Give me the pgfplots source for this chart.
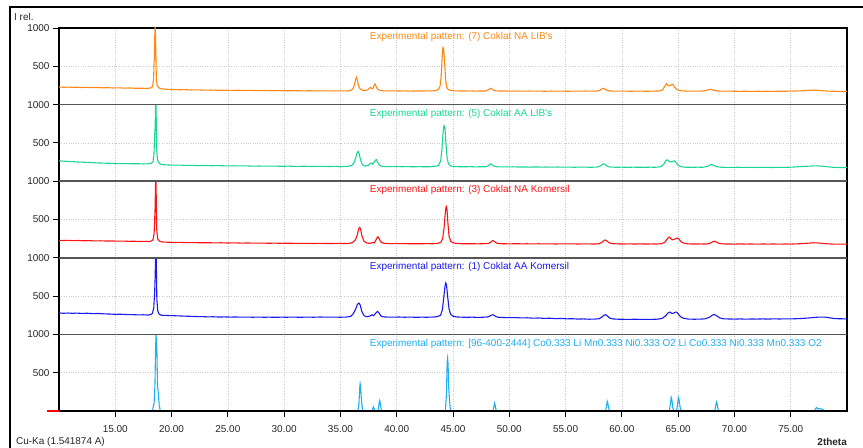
\documentclass[border=0pt]{standalone}
\usepackage{fontspec}
\setmainfont{Liberation Sans}
\usepackage{pgfplots}
\pgfplotsset{compat=1.18}
\usepackage{pgfplotstable}
\definecolor{corange}{RGB}{255,136,20}
\definecolor{cgreen}{RGB}{25,215,145}
\definecolor{cred}{RGB}{250,20,20}
\definecolor{cblue}{RGB}{25,25,240}
\definecolor{clblue}{RGB}{30,175,240}
\definecolor{sepgray}{RGB}{85,85,85}

\pgfplotstableread{
x y
10.0 230
10.4 226
10.8 229
11.2 225
11.6 227
12.0 223
12.5 225
13.0 221
13.4 224
13.8 219
14.3 221
14.8 217
15.3 219
15.8 215
16.3 217
16.8 213
17.3 214
17.7 211
18.0 214
18.2 220
18.32 240
18.40 330
18.45 560
18.48 620
18.52 1000
18.56 1000
18.60 700
18.65 330
18.72 250
18.85 222
19.0 210
19.3 202
19.7 199
20.2 196
20.7 194
21.2 195
21.7 191
22.3 192
22.9 189
23.5 190
24.1 187
24.7 188
25.3 185
25.9 187
26.5 184
27.1 185
27.7 182
28.3 184
28.9 181
29.5 183
30.2 180
30.9 182
31.6 179
32.3 181
33.0 178
33.7 180
34.4 178
35.0 179
35.6 178
35.9 185
36.1 205
36.25 260
36.35 330
36.42 357
36.5 320
36.6 250
36.75 205
36.95 188
37.2 184
37.45 195
37.6 218
37.7 222
37.8 205
37.9 215
38.0 255
38.07 270
38.15 245
38.3 200
38.5 185
38.8 180
39.2 178
39.7 180
40.2 177
40.7 179
41.2 176
41.7 178
42.2 177
42.7 179
43.1 178
43.5 184
43.7 198
43.85 240
43.95 380
44.03 600
44.09 722
44.13 700
44.17 722
44.25 560
44.35 320
44.45 220
44.6 195
44.8 185
45.1 180
45.5 178
46.0 177
46.5 179
47.0 176
47.5 178
47.9 177
48.1 190
48.25 205
48.34 213
48.45 204
48.6 188
48.8 179
49.2 177
49.7 178
50.2 175
50.7 177
51.2 176
51.7 177
52.2 175
52.7 176
53.2 174
53.7 177
54.2 175
54.7 176
55.2 174
55.7 176
56.2 175
56.7 177
57.2 175
57.7 176
58.0 183
58.2 200
58.3 213
58.45 205
58.65 188
58.9 178
59.3 176
59.8 175
60.3 176
60.8 174
61.3 176
61.8 175
62.3 174
62.8 176
63.3 178
63.6 190
63.8 235
63.97 274
64.1 250
64.25 245
64.38 260
64.52 265
64.65 238
64.8 205
65.0 188
65.3 180
65.7 177
66.2 175
66.7 176
67.2 177
67.5 185
67.7 196
67.84 200
68.0 195
68.2 184
68.5 178
69.0 175
69.5 176
70.0 174
70.5 173
71.0 175
71.5 172
72.0 174
72.5 173
73.0 174
73.5 172
74.0 175
74.5 174
75.0 176
75.5 178
76.0 180
76.5 185
77.0 188
77.3 187
77.7 183
78.2 177
78.7 174
79.2 173
79.7 172
80.0 173
}\orangedata

\pgfplotstableread{
x y
10.0 266
10.4 262
10.8 258
11.2 255
11.6 251
12.0 249
12.5 245
13.0 242
13.5 238
14.0 236
14.5 233
15.0 231
15.5 229
16.0 230
16.5 227
17.0 228
17.5 225
17.9 227
18.2 234
18.35 255
18.43 340
18.5 600
18.54 700
18.58 1000
18.62 1000
18.67 420
18.75 280
18.9 232
19.1 218
19.4 214
19.8 211
20.3 209
20.8 210
21.3 206
21.8 207
22.4 204
23.0 205
23.6 202
24.2 203
24.8 200
25.4 201
26.0 199
26.6 200
27.2 197
27.8 198
28.4 196
29.0 197
29.7 195
30.4 196
31.1 193
31.8 195
32.5 192
33.2 194
33.9 192
34.6 193
35.2 191
35.7 194
36.0 205
36.2 240
36.35 300
36.48 370
36.57 389
36.66 360
36.8 270
36.95 215
37.2 197
37.45 205
37.65 232
37.75 236
37.85 222
38.0 248
38.12 276
38.2 280
38.3 250
38.45 210
38.7 194
39.0 191
39.5 190
40.0 192
40.5 189
41.0 190
41.5 188
42.0 190
42.5 188
43.0 189
43.4 193
43.7 205
43.9 260
44.02 420
44.12 640
44.2 725
44.28 710
44.36 520
44.48 300
44.6 225
44.8 200
45.1 192
45.5 189
46.0 188
46.5 190
47.0 187
47.5 189
47.9 188
48.1 200
48.25 220
48.34 227
48.45 215
48.65 196
48.9 188
49.3 187
49.8 186
50.3 188
50.8 185
51.3 186
51.8 184
52.3 186
52.8 184
53.3 185
53.8 183
54.3 185
54.8 183
55.3 184
55.8 182
56.3 184
56.8 183
57.3 182
57.8 184
58.1 200
58.28 222
58.4 227
58.52 215
58.75 192
59.0 184
59.5 182
60.0 183
60.5 181
61.0 183
61.5 182
62.0 181
62.5 183
63.0 182
63.4 188
63.7 215
63.9 265
64.02 280
64.15 265
64.3 250
64.5 258
64.67 266
64.82 240
65.0 205
65.3 188
65.7 182
66.2 181
66.7 183
67.2 182
67.6 192
67.85 212
67.98 218
68.15 208
68.4 190
68.8 182
69.3 181
69.8 180
70.3 182
70.8 180
71.3 181
71.8 179
72.3 181
72.8 180
73.3 179
73.8 181
74.3 180
74.8 182
75.3 185
75.8 190
76.3 194
76.8 198
77.3 201
77.8 196
78.3 188
78.8 181
79.3 179
80.0 178
}\greendata

\pgfplotstableread{
x y
10.0 228
10.4 226
10.8 227
11.2 224
11.7 226
12.2 222
12.7 224
13.2 220
13.7 222
14.2 219
14.7 220
15.2 217
15.7 218
16.2 215
16.7 216
17.2 213
17.7 214
18.0 213
18.2 218
18.35 235
18.45 320
18.51 540
18.54 670
18.58 1000
18.62 1000
18.67 380
18.76 250
18.9 220
19.1 208
19.4 204
19.8 203
20.3 200
20.8 201
21.4 198
22.0 199
22.6 196
23.2 197
23.8 195
24.4 196
25.0 193
25.6 195
26.2 192
26.8 193
27.4 191
28.0 192
28.6 190
29.2 191
29.8 189
30.5 190
31.2 188
31.9 189
32.6 187
33.3 188
34.0 186
34.7 188
35.3 186
35.8 188
36.1 200
36.35 240
36.5 300
36.63 380
36.72 396
36.8 370
36.92 280
37.1 215
37.35 192
37.6 188
37.8 196
37.9 200
38.0 194
38.15 230
38.28 270
38.34 274
38.42 255
38.6 205
38.85 190
39.2 186
39.7 185
40.2 184
40.7 185
41.2 183
41.7 184
42.2 183
42.7 185
43.2 183
43.6 188
43.9 200
44.08 250
44.2 380
44.3 560
44.37 660
44.41 670
44.46 640
44.55 450
44.65 280
44.8 215
45.0 195
45.3 188
45.7 184
46.2 183
46.7 184
47.2 182
47.7 184
48.1 185
48.3 198
48.45 218
48.55 226
48.65 215
48.85 193
49.1 185
49.6 183
50.1 182
50.6 184
51.1 182
51.6 183
52.1 181
52.6 183
53.1 181
53.6 182
54.1 180
54.6 182
55.1 181
55.6 182
56.1 180
56.6 182
57.1 181
57.6 180
58.0 184
58.25 205
58.42 228
58.53 232
58.65 222
58.85 197
59.1 185
59.6 181
60.1 180
60.6 182
61.1 180
61.6 181
62.1 180
62.6 181
63.1 180
63.5 184
63.8 200
64.0 240
64.15 265
64.23 270
64.35 250
64.5 235
64.7 245
64.85 255
64.97 257
65.1 240
65.3 205
65.6 187
66.0 181
66.5 180
67.0 181
67.5 180
67.8 188
68.05 208
68.22 217
68.38 207
68.65 188
69.0 181
69.5 180
70.0 179
70.5 181
71.0 179
71.5 180
72.0 178
72.5 180
73.0 179
73.5 180
74.0 178
74.5 180
75.0 179
75.5 182
76.0 185
76.5 190
77.0 196
77.4 194
77.8 188
78.3 182
78.8 179
79.3 178
80.0 178
}\reddata

\pgfplotstableread{
x y
10.0 280
10.4 276
10.8 279
11.2 275
11.6 278
12.0 274
12.5 276
13.0 271
13.5 273
14.0 268
14.5 266
15.0 262
15.5 263
16.0 259
16.5 258
17.0 255
17.5 256
17.9 252
18.15 258
18.3 275
18.42 350
18.5 560
18.54 750
18.58 1000
18.64 1000
18.69 460
18.78 300
18.92 262
19.1 250
19.4 248
19.8 246
20.2 244
20.7 241
21.2 238
21.7 236
22.2 233
22.7 232
23.2 229
23.7 230
24.2 227
24.7 228
25.2 226
25.7 227
26.2 225
26.7 226
27.2 224
27.7 226
28.2 224
28.7 225
29.2 223
29.7 225
30.2 224
30.8 226
31.4 223
32.0 226
32.6 224
33.2 227
33.8 225
34.4 226
35.0 224
35.5 226
35.9 235
36.15 270
36.35 330
36.52 395
36.65 409
36.75 385
36.9 300
37.1 245
37.35 230
37.6 238
37.8 256
37.95 245
38.15 280
38.3 300
38.4 285
38.6 240
38.85 228
39.2 226
39.7 225
40.2 227
40.7 224
41.2 226
41.7 223
42.2 225
42.7 224
43.2 226
43.6 232
43.9 250
44.05 320
44.18 480
44.28 620
44.35 670
44.42 650
44.52 500
44.65 330
44.8 260
45.0 238
45.3 228
45.7 225
46.2 223
46.7 225
47.2 222
47.7 224
48.1 228
48.3 242
48.45 254
48.55 256
48.65 248
48.85 230
49.1 222
49.6 220
50.1 218
50.6 219
51.1 215
51.6 217
52.1 212
52.6 214
53.1 209
53.6 211
54.1 206
54.6 208
55.1 203
55.6 205
56.1 200
56.6 202
57.1 198
57.6 200
58.0 205
58.3 235
58.45 252
58.55 258
58.68 245
58.9 215
59.2 202
59.7 198
60.2 197
60.7 196
61.2 198
61.7 195
62.2 197
62.7 196
63.2 199
63.6 210
63.9 245
64.1 280
64.28 291
64.45 272
64.6 278
64.75 290
64.87 291
65.0 270
65.2 232
65.5 210
65.9 200
66.4 198
66.9 199
67.4 203
67.8 225
68.05 252
68.22 261
68.4 245
68.7 215
69.0 204
69.5 201
70.0 200
70.5 202
71.0 199
71.5 201
72.0 200
72.5 202
73.0 200
73.5 203
74.0 201
74.5 203
75.0 202
75.5 205
76.0 208
76.5 213
77.0 220
77.5 226
78.0 226
78.4 218
78.8 208
79.3 204
80.0 203
}\bluedata

\pgfplotstableread{
x y
18.30 0
18.45 110
18.52 320
18.58 820
18.62 1000
18.66 900
18.70 760
18.75 330
18.82 240
18.90 80
19.00 0
nan nan
36.55 0
36.65 110
36.71 300
36.75 355
36.79 320
36.84 200
36.90 90
36.98 0
nan nan
37.80 0
37.88 35
37.93 53
37.99 30
38.05 0
nan nan
38.33 0
38.42 80
38.48 133
38.53 110
38.58 60
38.65 0
nan nan
44.32 0
44.42 230
44.48 640
44.52 689
44.56 620
44.62 300
44.70 120
44.78 0
nan nan
48.55 0
48.64 60
48.69 102
48.74 80
48.80 30
48.86 0
nan nan
58.55 0
58.64 70
58.70 127
58.75 105
58.82 40
58.90 0
nan nan
64.22 0
64.32 100
64.38 177
64.44 150
64.52 50
64.62 0
nan nan
64.86 0
64.96 100
65.02 177
65.08 150
65.16 60
65.26 0
nan nan
68.25 0
68.34 70
68.40 118
68.46 95
68.53 35
68.60 0
nan nan
77.10 0
77.22 35
77.30 45
77.40 25
77.55 30
77.70 28
77.85 20
78.00 0
}\refdata

\begin{document}
\begin{tikzpicture}[x=1bp,y=1bp]
\useasboundingbox (0,0) rectangle (863,448);
\draw[line width=1.5bp] (10,0) -- (10,441) -- (863,441);
\begin{axis}[
  at={(59bp,37bp)}, anchor=south west,
  width=788bp, height=383bp, scale only axis,
  xmin=10, xmax=80, ymin=0, ymax=5000,
  xtick={15,20,...,75},
  ytick={500,1000,...,5000},
  yticklabels={500,1000,500,1000,500,1000,500,1000,500,1000},
  tick align=outside, tick pos=left,
  major tick length=6bp,
  grid=major,
  major grid style={dotted, line width=0.6bp, gray!40},
  axis line style={line width=1.1bp},
  tick style={line width=0.8bp, black},
  ticklabel style={font=\fontsize{10}{11}\selectfont, text=black!85},
  /pgf/number format/assume math mode=true,
  xticklabel style={yshift=-5bp, /pgf/number format/.cd, fixed, fixed zerofill, precision=2},
  every axis plot/.append style={line width=1.1bp},
  unbounded coords=jump,
]
\addplot[corange, no markers] table[x=x, y expr=\thisrow{y}+4000] {\orangedata};
\addplot[cgreen, no markers] table[x=x, y expr=\thisrow{y}+3000] {\greendata};
\addplot[cred, no markers] table[x=x, y expr=\thisrow{y}+2000] {\reddata};
\addplot[cblue, no markers] table[x=x, y expr=\thisrow{y}+1000] {\bluedata};
\addplot[clblue, no markers] table[x=x, y=y] {\refdata};
\foreach \yy in {1000,2000,3000,4000} {
  \edef\tmp{\noexpand\draw[sepgray, line width=1.6bp] (axis cs:10,\yy) -- (axis cs:80,\yy);}
  \tmp
}
\begin{scope}[every node/.style={anchor=west, inner sep=0, font=\fontsize{10}{11}\selectfont}]
\node[text=corange] at (axis cs:37.6,4880) {Experimental pattern: (7) Coklat NA LIB\textquotesingle s};
\node[text=cgreen] at (axis cs:37.6,3880) {Experimental pattern: (5) Coklat AA LIB\textquotesingle s};
\node[text=cred] at (axis cs:37.6,2880) {Experimental pattern: (3) Coklat NA Komersil};
\node[text=cblue] at (axis cs:37.6,1880) {Experimental pattern: (1) Coklat AA Komersil};
\node[text=clblue] at (axis cs:37.6,880) {Experimental pattern: [96-400-2444] Co0.333 Li Mn0.333 Ni0.333 O2 Li Co0.333 Ni0.333 Mn0.333 O2};
\end{scope}
\end{axis}
\draw[line width=1.8bp] (59,37) -- (847,37);
\draw[red, line width=2bp] (47,37) -- (58.5,37);
\begin{scope}[every node/.style={inner sep=0, font=\fontsize{10}{11}\selectfont, text=black!85}]
\node[anchor=west] at (14,431) {I rel.};
\node[anchor=west] at (16,6.3) {Cu-Ka (1.541874 A)};
\node[anchor=east, font=\fontsize{10}{11}\selectfont\bfseries] at (847,6.3) {2theta};
\end{scope}
\end{tikzpicture}
\end{document}
